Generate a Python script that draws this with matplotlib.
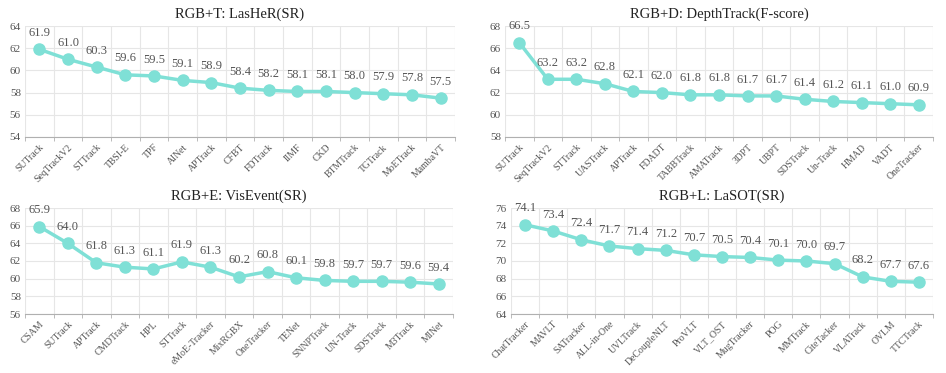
import matplotlib
matplotlib.use("Agg")
import matplotlib.pyplot as plt
import numpy as np

plt.rcParams['font.family'] = ['Liberation Serif', 'DejaVu Serif']

t_names = ["SUTrack", "SeqTrackV2", "STTrack", "TBSI-E", "TPF", "AINet", "APTrack", "CFBT",
           "FDTrack", "IIMF", "CKD", "BTMTrack", "TGTrack", "MoETrack", "MambaVT"]
t_vals = [61.9, 61.0, 60.3, 59.6, 59.5, 59.1, 58.9, 58.4, 58.2, 58.1, 58.1, 58.0, 57.9, 57.8, 57.5]

d_names = ["SUTrack", "SeqTrackV2", "STTrack", "UASTrack", "APTrack", "FDADT", "TABBTrack",
           "AMATrack", "3DPT", "UBPT", "SDSTrack", "Un-Track", "HMAD", "VADT", "OneTracker"]
d_vals = [66.5, 63.2, 63.2, 62.8, 62.1, 62.0, 61.8, 61.8, 61.7, 61.7, 61.4, 61.2, 61.1, 61.0, 60.9]

e_names = ["CSAM", "SUTrack", "APTrack", "CMDTrack", "HPL", "STTrack", "eMoE-Tracker", "MixRGBX",
           "OneTracker", "TENet", "SNNPTrack", "UN-Track", "SDSTrack", "M3Track", "MINet"]
e_vals = [65.9, 64.0, 61.8, 61.3, 61.1, 61.9, 61.3, 60.2, 60.8, 60.1, 59.8, 59.7, 59.7, 59.6, 59.4]

l_names = ["ChatTracker", "MAVLT", "SATracker", "ALL-in-One", "UVLTrack", "DeCoupleNLT", "ProVLT",
           "VLT_OST", "MugTracker", "POG", "MMTrack", "CiteTacker", "VLATrack", "OVLM", "TTCTrack"]
l_vals = [74.1, 73.4, 72.4, 71.7, 71.4, 71.2, 70.7, 70.5, 70.4, 70.1, 70.0, 69.7, 68.2, 67.7, 67.6]

panels = [
    ("RGB+T: LasHeR(SR)", t_names, t_vals, (54, 64), (25, 26, 455, 137)),
    ("RGB+D: DepthTrack(F-score)", d_names, d_vals, (58, 68), (505, 26, 933, 137)),
    ("RGB+E: VisEvent(SR)", e_names, e_vals, (56, 68), (25, 208, 453, 314)),
    ("RGB+L: LaSOT(SR)", l_names, l_vals, (64, 76), (511, 208, 933, 314)),
]

W, H = 946, 373
fig = plt.figure(figsize=(W / 100, H / 100), dpi=100)
color = "#7fe0d6"
gridc = "#e6e6e6"
axc = "#b0b0b0"
txtc = "#555555"

for title, names, vals, ylim, (x0, y0, x1, y1) in panels:
    ax = fig.add_axes([x0 / W, 1 - y1 / H, (x1 - x0) / W, (y1 - y0) / H])
    n = len(names)
    x = np.arange(n)
    ax.plot(x, vals, color=color, lw=2.5, marker='o', ms=8, mfc=color, mec=color, zorder=3)
    for xi, v in zip(x, vals):
        ax.annotate(f"{v:.1f}", (xi, v), xytext=(0, 7.5), textcoords='offset points',
                    ha='center', va='bottom', fontsize=9, color=txtc)
    ax.set_xlim(-0.5, n - 0.5)
    ax.set_ylim(*ylim)
    ax.set_yticks(np.arange(ylim[0], ylim[1] + 0.1, 2))
    ax.set_xticks(x)
    ax.set_xticklabels(names, rotation=45, ha='right', rotation_mode='anchor', fontsize=7, color=txtc)
    ax.set_xticks(np.arange(-0.5, n, 1), minor=True)
    ax.tick_params(axis='x', which='major', length=0, pad=4)
    ax.tick_params(axis='x', which='minor', length=3, color=axc)
    ax.tick_params(axis='y', length=0, labelsize=8, labelcolor=txtc, pad=3)
    ax.grid(True, which='minor', axis='x', color=gridc, lw=0.8)
    ax.grid(True, which='major', axis='y', color=gridc, lw=0.8)
    ax.set_axisbelow(True)
    for s in ['top', 'right', 'left']:
        ax.spines[s].set_visible(False)
    ax.spines['bottom'].set_color(axc)
    ax.set_title(title, fontsize=10.5, color="#222222", pad=6)

fig.savefig("out.png", dpi=100)
